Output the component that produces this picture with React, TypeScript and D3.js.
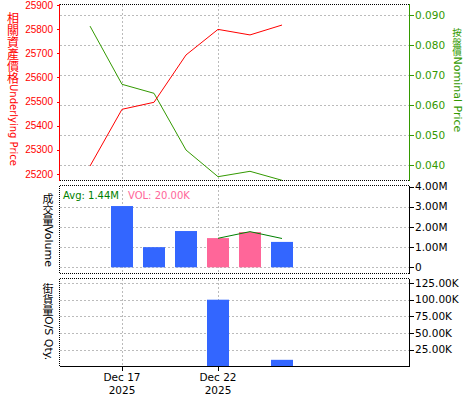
import React from 'react';
import * as d3 from 'd3';

const dates = ['Dec 16', 'Dec 17', 'Dec 18', 'Dec 19', 'Dec 22', 'Dec 23', 'Dec 24'];
const underlying = [25233, 25468, 25497, 25693, 25799, 25776, 25817];
const nominal = [0.0863, 0.0669, 0.0639, 0.045, 0.0361, 0.0379, 0.0349];
const volume = [0, 3040000, 1000000, 1800000, 1450000, 1750000, 1260000];
const volHighlight = [false, false, false, false, true, true, false];
const volAvgLine = [null, null, null, null, 1440000, 1770000, 1430000];
const osQty = [0, 0, 0, 0, 100000, 0, 10000];
const xTickIndex = [1, 4];
const xTickLabels = ['Dec 17', 'Dec 22'];
const xTickYears = ['2025', '2025'];
const underlyingTicks = [25200, 25300, 25400, 25500, 25600, 25700, 25800, 25900];
const nominalTicks = [0.04, 0.05, 0.06, 0.07, 0.08, 0.09];
const volTicks = [0, 1000000, 2000000, 3000000, 4000000];
const volTickLabels = ['0', '1.00M', '2.00M', '3.00M', '4.00M'];
const qtyTicks = [25000, 50000, 75000, 100000, 125000];
const qtyTickLabels = ['25.00K', '50.00K', '75.00K', '100.00K', '125.00K'];

const L = 59.5;
const R = 409.5;
const P1 = { top: 4.5, bottom: 180.5 };
const P2 = { top: 185.5, bottom: 273.5 };
const P3 = { top: 278.5, bottom: 366.5 };

const RED = '#ff0000';
const GREEN = '#339900';
const BLUE = '#3366ff';
const PINK = '#ff6699';
const DKGREEN = '#008000';
const GRID = '#bbbbbb';
const FONT = '"DejaVu Sans", sans-serif';
const CJK = '"Noto Sans CJK TC", "Noto Sans CJK SC", sans-serif';

function VTitle(props: {
  x: number;
  y: number;
  cjk: string;
  latin: string;
  cjkSize: number;
  latinSize: number;
  fill: string;
}) {
  const { x, y, cjk, latin, cjkSize, latinSize, fill } = props;
  const chars = Array.from(cjk);
  const yLatin = y + chars.length * cjkSize;
  return (
    <g fill={fill}>
      {chars.map((c, i) => (
        <text
          key={i}
          x={x}
          y={y + i * cjkSize + cjkSize * 0.88}
          textAnchor="middle"
          fontFamily={CJK}
          fontSize={cjkSize}
        >
          {c}
        </text>
      ))}
      <text
        transform={`translate(${x},${yLatin}) rotate(90)`}
        dominantBaseline="central"
        fontFamily={FONT}
        fontSize={latinSize}
      >
        {latin}
      </text>
    </g>
  );
}

export default function App() {
  const x = d3.scaleLinear().domain([0, 6]).range([90, 282]);
  const yU = d3.scaleLinear().domain([25200, 25900]).range([174, 5]);
  const yN = d3.scaleLinear().domain([0.04, 0.09]).range([165, 15]);
  const yV = d3.scaleLinear().domain([0, 4000000]).range([267.3, 186.7]);
  const yQ = d3.scaleLinear().domain([0, 125000]).range([366.5, 283]);
  const barW = 22;

  const lineU = d3.line<number>().x((_, i) => x(i)).y((d) => yU(d));
  const lineN = d3.line<number>().x((_, i) => x(i)).y((d) => yN(d));
  const avgPts = volAvgLine
    .map((v, i) => (v == null ? null : [x(i), yV(v)] as [number, number]))
    .filter((p) => p != null) as [number, number][];
  const lineAvg = d3.line();

  const hline = (y: number, x1: number, x2: number, stroke: string, dash?: string, key?: string) => (
    <line key={key} x1={x1} x2={x2} y1={y} y2={y} stroke={stroke} strokeDasharray={dash} shapeRendering="crispEdges" />
  );
  const vline = (xx: number, y1: number, y2: number, stroke: string, dash?: string, key?: string) => (
    <line key={key} x1={xx} x2={xx} y1={y1} y2={y2} stroke={stroke} strokeDasharray={dash} shapeRendering="crispEdges" />
  );
  const snap = (v: number) => Math.round(v) + 0.5;

  return (
    <svg width={475} height={400} style={{ position: 'absolute', left: 0, top: 0, background: '#fff' }}>
      <defs>
        <clipPath id="clip1">
          <rect x={L} y={P1.top} width={R - L} height={P1.bottom - P1.top + 1} />
        </clipPath>
      </defs>
      {/* ---------- Panel 1 ---------- */}
      {nominalTicks.map((t, i) => hline(snap(yN(t)), L, R, GRID, '2,2', 'g1' + i))}
      {xTickIndex.map((t, i) => vline(snap(x(t)), P1.top, P1.bottom, GRID, '2,2', 'v1' + i))}
      <g clipPath="url(#clip1)">
        <path d={lineN(nominal) || ''} fill="none" stroke={GREEN} strokeWidth={1} />
        <path d={lineU(underlying) || ''} fill="none" stroke={RED} strokeWidth={1} />
      </g>
      {hline(P1.top, L, R, '#000', '1,1')}
      {hline(P1.bottom, L, R, '#000', '1,1')}
      {vline(L, P1.top - 0.5, P1.bottom, RED)}
      {vline(R, P1.top - 0.5, P1.bottom, GREEN)}
      {underlyingTicks.map((t, i) => (
        <g key={'ut' + i}>
          {hline(snap(yU(t)), L - 3, L, RED)}
          <text x={53} y={yU(t)} dy={3.6} textAnchor="end" fill={RED} fontFamily='"Liberation Sans", sans-serif' fontSize={10}>
            {t}
          </text>
        </g>
      ))}
      {nominalTicks.map((t, i) => (
        <g key={'nt' + i}>
          {hline(snap(yN(t)), R, R + 4, GREEN)}
          <text x={415} y={yN(t)} dy={3.6} fill={GREEN} fontFamily={FONT} fontSize={10.5}>
            {t.toFixed(3)}
          </text>
        </g>
      ))}
      <VTitle x={13} y={12} cjk="相關資產價格" latin="Underlying Price" cjkSize={12} latinSize={10} fill={RED} />
      <VTitle x={457} y={28} cjk="按盤價" latin="Nominal Price" cjkSize={9.5} latinSize={11} fill={GREEN} />

      {/* ---------- Panel 2 ---------- */}
      {volTicks.slice(0, 4).map((t, i) => hline(snap(yV(t)), L, R, GRID, '2,2', 'g2' + i))}
      {xTickIndex.map((t, i) => vline(snap(x(t)), P2.top, P2.bottom, GRID, '2,2', 'v2' + i))}
      {volume.map((v, i) =>
        v > 0 ? (
          <rect
            key={'vb' + i}
            x={Math.round(x(i) - barW / 2)}
            y={yV(v)}
            width={barW}
            height={yV(0) - yV(v)}
            fill={volHighlight[i] ? PINK : BLUE}
          />
        ) : null
      )}
      <path d={lineAvg(avgPts) || ''} fill="none" stroke={DKGREEN} strokeWidth={1} />
      {hline(P2.top, L, R, '#000', '1,1')}
      {hline(P2.bottom, L, R, '#000', '1,1')}
      {vline(L, P2.top, P2.bottom, '#000', '1,1')}
      {vline(R, P2.top, P2.bottom, '#000')}
      {volTicks.map((t, i) => (
        <g key={'vt' + i}>
          {hline(snap(yV(t)), R, R + 4, '#000')}
          <text x={415} y={yV(t)} dy={3.6} fill="#000" fontFamily={FONT} fontSize={10.5}>
            {volTickLabels[i]}
          </text>
        </g>
      ))}
      <text x={63} y={199} fill={DKGREEN} fontFamily={FONT} fontSize={10}>Avg: 1.44M</text>
      <text x={128} y={199} fill={PINK} fontFamily={FONT} fontSize={10}>VOL: 20.00K</text>
      <VTitle x={48} y={193} cjk="成交量" latin="Volume" cjkSize={11} latinSize={11} fill="#000" />

      {/* ---------- Panel 3 ---------- */}
      {qtyTicks.map((t, i) => hline(snap(yQ(t)), L, R, GRID, '2,2', 'g3' + i))}
      {xTickIndex.map((t, i) => vline(snap(x(t)), P3.top, P3.bottom, GRID, '2,2', 'v3' + i))}
      {osQty.map((v, i) =>
        v > 0 ? (
          <rect
            key={'qb' + i}
            x={Math.round(x(i) - barW / 2)}
            y={yQ(v)}
            width={barW}
            height={yQ(0) - yQ(v)}
            fill={BLUE}
          />
        ) : null
      )}
      {hline(P3.top, L, R, '#000', '1,1')}
      {vline(L, P3.top, P3.bottom, '#000', '1,1')}
      {vline(R, P3.top, P3.bottom + 0.5, '#000')}
      {hline(P3.bottom, L, R, '#000')}
      {qtyTicks.map((t, i) => (
        <g key={'qt' + i}>
          {hline(snap(yQ(t)), R, R + 4, '#000')}
          <text x={415} y={yQ(t)} dy={3.6} fill="#000" fontFamily={FONT} fontSize={10.5}>
            {qtyTickLabels[i]}
          </text>
        </g>
      ))}
      <VTitle x={48} y={283} cjk="街貨量" latin="O/S Qty." cjkSize={11} latinSize={11} fill="#000" />

      {/* ---------- X axis ---------- */}
      {xTickIndex.map((t, i) => (
        <g key={'xt' + i}>
          {vline(snap(x(t)), P3.bottom, P3.bottom + 4, '#000')}
          <text x={x(t)} y={381} textAnchor="middle" fill="#000" fontFamily={FONT} fontSize={10.5}>
            {xTickLabels[i]}
          </text>
          <text x={x(t)} y={394} textAnchor="middle" fill="#000" fontFamily={FONT} fontSize={10.5}>
            {xTickYears[i]}
          </text>
        </g>
      ))}
      <desc>{dates.join(',')}</desc>
    </svg>
  );
}
